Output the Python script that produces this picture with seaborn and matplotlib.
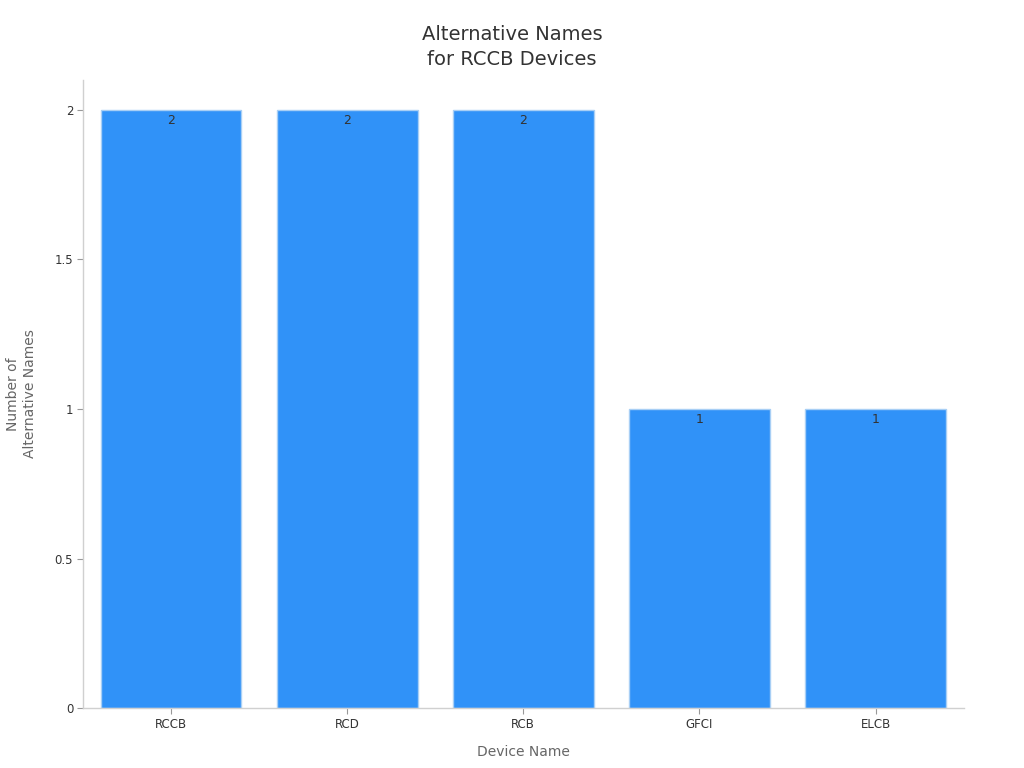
import matplotlib
matplotlib.use("Agg")
import matplotlib.pyplot as plt
import seaborn as sns
import pandas as pd
from matplotlib.ticker import FuncFormatter

devices = ["RCCB", "RCD", "RCB", "GFCI", "ELCB"]
alt_names = [2, 2, 2, 1, 1]

sns.set_theme(style="white")
plt.rcParams['font.family'] = ['DejaVu Sans']

df = pd.DataFrame({"Device Name": devices, "Count": alt_names})

fig = plt.figure(figsize=(10.24, 7.68), dpi=100)
ax = fig.add_axes([0.081, 0.078, 0.86, 0.818])

sns.barplot(data=df, x="Device Name", y="Count", color="#3092F8", saturation=1,
            width=0.8, edgecolor="#A8CFF5", linewidth=1, ax=ax)

for bar, val in zip(ax.patches, alt_names):
    ax.text(bar.get_x() + bar.get_width() / 2, bar.get_height() - 0.015, f"{val}",
            ha="center", va="top", fontsize=9, color="#333333")

ax.set_xlim(-0.5, 4.5)
ax.set_ylim(0, 2.1)
ax.set_yticks([0, 0.5, 1, 1.5, 2])
ax.yaxis.set_major_formatter(FuncFormatter(lambda v, p: f"{v:g}"))

fig.suptitle("Alternative Names\nfor RCCB Devices", fontsize=14, color="#333333",
             x=0.5, y=0.968, va="top", linespacing=1.45)
ax.set_xlabel("Device Name", fontsize=10, color="#666666", labelpad=10)
ax.set_ylabel("Number of\nAlternative Names", fontsize=10, color="#666666", labelpad=13)

ax.tick_params(axis="both", labelsize=8.5, colors="#333333", length=4, width=0.8,
               bottom=True, left=True, pad=3)
ax.tick_params(axis="both", color="#999999")

for side in ["top", "right"]:
    ax.spines[side].set_visible(False)
for side in ["left", "bottom"]:
    ax.spines[side].set_color("#D0D0D0")
    ax.spines[side].set_linewidth(1)

fig.savefig("out.png", dpi=100)
